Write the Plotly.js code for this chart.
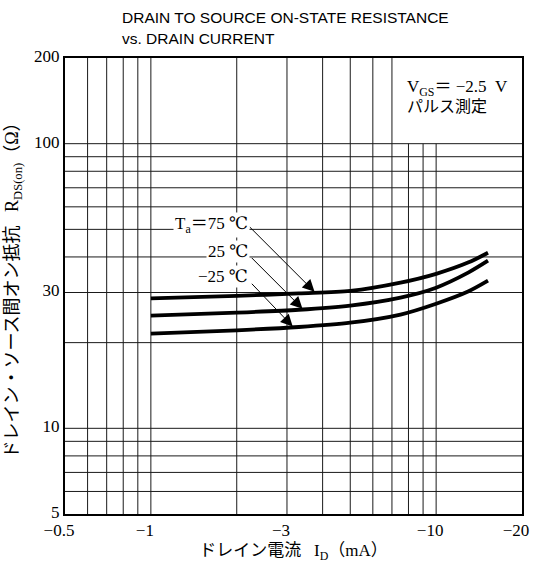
<!DOCTYPE html>
<html>
<head>
<meta charset="utf-8">
<script src="https://cdn.plot.ly/plotly-3.0.1.min.js"></script>
<style>
  html, body { margin: 0; padding: 0; background: #fff; }
  #chart { width: 536px; height: 563px; }
</style>
</head>
<body>
<div id="chart"></div>
<script>
// ---- data ----
const currentMA = [-1, -2, -3.3, -5, -7.5, -10, -13, -15.2];      // I_D (mA)
const r75  = [28.6, 29.2, 29.8, 30.4, 32.5, 34.9, 38.3, 41.4];     // Ta = 75 °C
const r25  = [24.9, 25.5, 26.1, 27.0, 28.8, 31.2, 35.3, 38.8];     // Ta = 25 °C
const rM25 = [21.5, 22.1, 22.7, 23.5, 25.1, 27.4, 30.3, 33.0];     // Ta = -25 °C
const seriesNames = ['Ta=75 ℃', '25 ℃', '−25 ℃'];
const arrowTipMA = [-3.77, -3.42, -3.16];                           // where the label arrows touch each curve

const xTickVals = [-0.5, -1, -3, -10, -20];
const yTickVals = [5, 10, 30, 100, 200];
const xGridVals = [-0.6, -0.7, -0.8, -0.9, -1, -2, -3, -4, -5, -6, -7, -8, -9, -10];
const xGridUnderBox = [-8, -9, -10];                                // stop at 100 Ω (under the condition box)
const yGridVals = [6, 7, 8, 9, 10, 20, 30, 40, 50, 60, 70, 80, 90, 100];

// ---- helpers ----
const mag = v => Math.abs(v);
const xMin = mag(xTickVals[0]), xMax = mag(xTickVals[xTickVals.length - 1]);
const yMin = yTickVals[0], yMax = yTickVals[yTickVals.length - 1];
function interpLogLog(xs, ys, x) {
  const lx = Math.log10(x);
  for (let i = 0; i < xs.length - 1; i++) {
    const a = Math.log10(xs[i]), b = Math.log10(xs[i + 1]);
    if (lx >= a && lx <= b) {
      const t = (lx - a) / (b - a);
      return Math.pow(10, Math.log10(ys[i]) + t * (Math.log10(ys[i + 1]) - Math.log10(ys[i])));
    }
  }
  return ys[ys.length - 1];
}

const SERIF = '"Liberation Serif", "DejaVu Serif", "Noto Sans CJK JP", serif';
const gridColor = '#1a1a1a';
const NB = '\u00a0';

// grid as line traces
const gx = [], gy = [];
xGridVals.forEach(v => {
  const top = xGridUnderBox.includes(v) ? 100 : yMax;
  gx.push(mag(v), mag(v), null); gy.push(yMin, top, null);
});
yGridVals.forEach(v => { gx.push(xMin, xMax, null); gy.push(v, v, null); });

const xs = currentMA.map(mag);
const curveLine = { color: '#000', width: 3.8, shape: 'spline', smoothing: 0.8 };
const traces = [
  { x: gx, y: gy, mode: 'lines', line: { color: gridColor, width: 1 }, hoverinfo: 'skip', showlegend: false },
  { x: xs, y: r75,  name: seriesNames[0], mode: 'lines', line: curveLine, showlegend: false },
  { x: xs, y: r25,  name: seriesNames[1], mode: 'lines', line: curveLine, showlegend: false },
  { x: xs, y: rM25, name: seriesNames[2], mode: 'lines', line: curveLine, showlegend: false }
];

// label arrows
const seriesY = [r75, r25, rM25];
const arrowOffsets = [[-67, -67], [-53, -53], [-43, -45]];
const annotations = [];
arrowTipMA.forEach((t, i) => {
  const xv = mag(t);
  annotations.push({
    x: Math.log10(xv), y: Math.log10(interpLogLog(xs, seriesY[i], xv)),
    xref: 'x', yref: 'y', text: '', showarrow: true,
    ax: arrowOffsets[i][0], ay: arrowOffsets[i][1],
    arrowhead: 2, arrowsize: 2.4, arrowwidth: 1, arrowcolor: '#000', standoff: 1
  });
});
// temperature labels
const labelTexts = ['T<sub>a</sub>＝75' + NB + '℃', '25' + NB + '℃', '−25' + NB + '℃'];
const labelY = [51.9, 41.7, 34.1];
labelTexts.forEach((t, i) => {
  annotations.push({
    x: Math.log10(2.22), y: Math.log10(labelY[i]), xref: 'x', yref: 'y',
    text: t, showarrow: false, xanchor: 'right', yanchor: 'middle',
    bgcolor: '#fff', borderpad: 1,
    font: { family: SERIF, size: 17, color: '#000' }
  });
});
// condition box text
annotations.push({
  x: 0.744, y: 0.934, xref: 'paper', yref: 'paper', xanchor: 'left', yanchor: 'middle',
  text: 'V<sub>GS</sub>＝' + NB + '−2.5' + NB + NB + 'V', showarrow: false,
  font: { family: SERIF, size: 17, color: '#000' }
});
annotations.push({
  x: 0.744, y: 0.893, xref: 'paper', yref: 'paper', xanchor: 'left', yanchor: 'middle',
  text: 'パルス測定', showarrow: false, font: { family: SERIF, size: 16, color: '#000' }
});
// chart title (two lines, left aligned)
const titleLines = ['DRAIN TO SOURCE ON-STATE RESISTANCE', 'vs. DRAIN CURRENT'];
const titlePx = [18, 38];
titleLines.forEach((t, i) => {
  annotations.push({
    x: (120 - 65) / 457, y: (514 - titlePx[i]) / 456, xref: 'paper', yref: 'paper',
    xanchor: 'left', yanchor: 'middle', text: t, showarrow: false,
    font: { family: '"Liberation Sans", Arial, sans-serif', size: 15.5, color: '#000' }
  });
});

const layout = {
  width: 536, height: 563,
  margin: { l: 65, r: 14, t: 58, b: 49, pad: 0 },
  paper_bgcolor: '#fff', plot_bgcolor: '#fff',
  xaxis: {
    type: 'log', range: [Math.log10(xMin), Math.log10(xMax)],
    tickvals: xTickVals.map(mag), ticktext: xTickVals.map(v => '−' + mag(v)),
    ticks: '', showgrid: false, zeroline: false, ticklabelshift: -6,
    showline: true, mirror: true, linecolor: '#000', linewidth: 2,
    tickfont: { family: SERIF, size: 17, color: '#000' },
    title: { text: 'ドレイン電流' + NB + NB + NB + 'I<sub>D</sub>（mA）', font: { family: SERIF, size: 17, color: '#000' } }
  },
  yaxis: {
    type: 'log', range: [Math.log10(yMin), Math.log10(yMax)],
    tickvals: yTickVals, ticktext: yTickVals.map(String),
    ticks: '', showgrid: false, zeroline: false, ticklabelshift: -2,
    showline: true, mirror: true, linecolor: '#000', linewidth: 2,
    tickfont: { family: SERIF, size: 17, color: '#000' },
    title: { text: 'ドレイン・ソース間オン抵抗' + NB + NB + NB + 'R<sub>DS(on)</sub>（Ω）', font: { family: SERIF, size: 18, color: '#000' } }
  },
  annotations: annotations,
  showlegend: false
};

Plotly.newPlot('chart', traces, layout, { staticPlot: true, displayModeBar: false });
</script>
</body>
</html>
